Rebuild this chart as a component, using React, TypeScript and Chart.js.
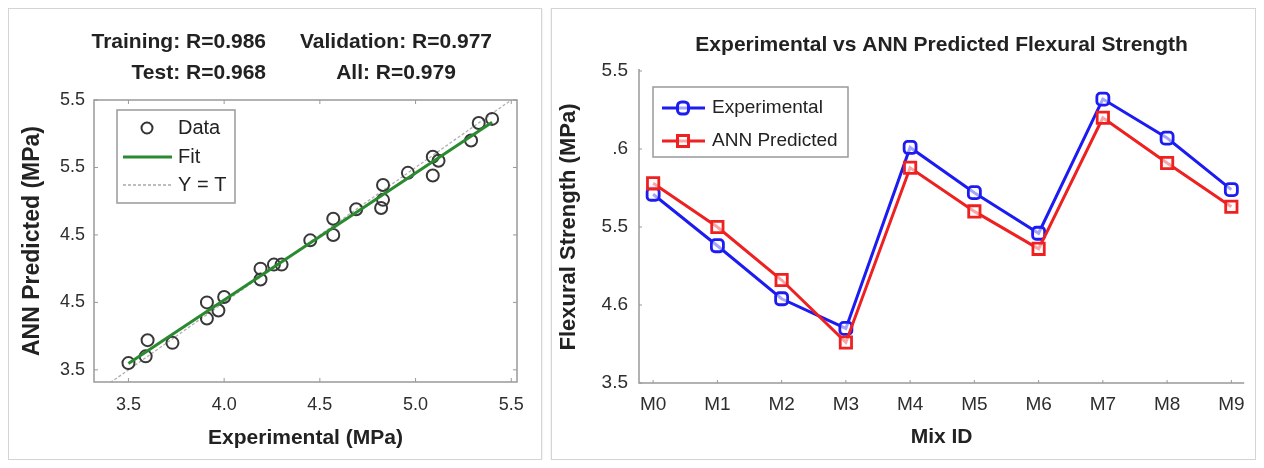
import React, { useEffect, useRef } from "react";
import { Chart, registerables } from "chart.js";

Chart.register(...registerables);

const FONT = "'Liberation Sans', Arial, Helvetica, sans-serif";

// ---------- Left panel: regression plot ----------
const experimentalMPa = [3.5, 3.6, 3.59, 3.73, 3.91, 3.91, 3.97, 4.0, 4.19, 4.19, 4.26, 4.3, 4.45, 4.57, 4.57, 4.69, 4.83, 4.83, 4.82, 4.96, 5.09, 5.12, 5.09, 5.29, 5.33, 5.4];
const predictedMPa = [3.55, 3.72, 3.6, 3.7, 4.0, 3.88, 3.94, 4.04, 4.25, 4.17, 4.28, 4.28, 4.46, 4.62, 4.5, 4.69, 4.87, 4.76, 4.7, 4.96, 5.08, 5.05, 4.94, 5.2, 5.33, 5.36];
const regressionTitleLeft = ["Training: R=0.986", "Test: R=0.968"];
const regressionTitleRight = ["Validation: R=0.977", "All: R=0.979"];
const regressionTickValues = [3.5, 4.0, 4.5, 5.0, 5.5];
const regressionXTickLabels = ["3.5", "4.0", "4.5", "5.0", "5.5"];
const regressionYTickLabels = ["3.5", "4.5", "4.5", "5.5", "5.5"];
const regressionLegendLabels = ["Data", "Fit", "Y = T"];
const regressionXLimits = [3.32, 5.53];
const regressionYLimits = [3.41, 5.5];

// ---------- Right panel: line comparison ----------
const mixIds = ["M0", "M1", "M2", "M3", "M4", "M5", "M6", "M7", "M8", "M9"];
const experimentalStrength = [4.71, 4.38, 4.04, 3.85, 5.01, 4.72, 4.46, 5.32, 5.07, 4.74];
const annPredictedStrength = [4.78, 4.5, 4.16, 3.76, 4.88, 4.6, 4.36, 5.2, 4.91, 4.63];
const strengthTickValues = [3.5, 4.0, 4.5, 5.0, 5.5];
const strengthYTickLabels = ["3.5", "4.6", "5.5", ".6", "5.5"];
const strengthSeriesLabels = ["Experimental", "ANN Predicted"];

function labelFor(values: number[], labels: string[], v: number) {
  const i = values.findIndex((t) => Math.abs(t - v) < 1e-6);
  return i >= 0 ? labels[i] : "";
}

function linearFit(xs: number[], ys: number[]) {
  const n = xs.length;
  const mx = xs.reduce((a, b) => a + b, 0) / n;
  const my = ys.reduce((a, b) => a + b, 0) / n;
  let sxy = 0, sxx = 0;
  for (let i = 0; i < n; i++) {
    sxy += (xs[i] - mx) * (ys[i] - my);
    sxx += (xs[i] - mx) * (xs[i] - mx);
  }
  const b = sxy / sxx;
  return { a: my - b * mx, b };
}

const GREEN = "#2a8a30";
const BLUE = "#1c1cf2";
const RED = "#ee2020";
const AXIS = "#999999";
const TEXT = "#222222";
const TICK_TEXT = "#2e2e2e";

function regressionConfig(): any {
  const fit = linearFit(experimentalMPa, predictedMPa);
  const xMin = Math.min(...experimentalMPa);
  const xMax = Math.max(...experimentalMPa);
  const decor = {
    id: "regDecor",
    afterDraw(chart: any) {
      const { ctx, chartArea: ca, scales } = chart;
      ctx.save();
      ctx.strokeStyle = AXIS;
      ctx.lineWidth = 1.5;
      ctx.strokeRect(ca.left, ca.top, ca.right - ca.left, ca.bottom - ca.top);
      ctx.lineWidth = 1;
      ctx.beginPath();
      regressionTickValues.forEach((v) => {
        const px = scales.x.getPixelForValue(v);
        ctx.moveTo(px, ca.bottom); ctx.lineTo(px, ca.bottom - 4);
        ctx.moveTo(px, ca.top); ctx.lineTo(px, ca.top + 4);
        const py = scales.y.getPixelForValue(v);
        ctx.moveTo(ca.left, py); ctx.lineTo(ca.left + 4, py);
        ctx.moveTo(ca.right, py); ctx.lineTo(ca.right - 4, py);
      });
      ctx.stroke();
      // legend
      const bx = ca.left + 23, by = ca.top + 10, bw = 118, bh = 93;
      ctx.fillStyle = "#fff";
      ctx.fillRect(bx, by, bw, bh);
      ctx.strokeStyle = AXIS;
      ctx.lineWidth = 1.5;
      ctx.strokeRect(bx, by, bw, bh);
      const rows = [by + 18, by + 47, by + 75];
      ctx.strokeStyle = "#333";
      ctx.lineWidth = 2;
      ctx.beginPath();
      ctx.arc(bx + 30, rows[0], 5.5, 0, Math.PI * 2);
      ctx.stroke();
      ctx.strokeStyle = GREEN;
      ctx.lineWidth = 3;
      ctx.beginPath();
      ctx.moveTo(bx + 6, rows[1]); ctx.lineTo(bx + 55, rows[1]);
      ctx.stroke();
      ctx.strokeStyle = "#a8a8a8";
      ctx.lineWidth = 1.3;
      ctx.setLineDash([3, 2]);
      ctx.beginPath();
      ctx.moveTo(bx + 6, rows[2]); ctx.lineTo(bx + 55, rows[2]);
      ctx.stroke();
      ctx.setLineDash([]);
      ctx.fillStyle = TEXT;
      ctx.font = `20px ${FONT}`;
      ctx.textBaseline = "middle";
      ctx.textAlign = "left";
      regressionLegendLabels.forEach((t, i) => ctx.fillText(t, bx + 61, rows[i]));
      // titles
      ctx.font = `bold 21px ${FONT}`;
      const ys = [33, 64];
      ctx.textAlign = "right";
      regressionTitleLeft.forEach((t, i) => ctx.fillText(t, ca.left + 172, ys[i]));
      ctx.textAlign = "center";
      regressionTitleRight.forEach((t, i) => ctx.fillText(t, ca.left + 302, ys[i]));
      ctx.restore();
    },
  };
  return {
    type: "scatter",
    data: {
      datasets: [
        {
          label: "Fit",
          type: "line",
          data: [
            { x: xMin, y: fit.a + fit.b * xMin },
            { x: xMax, y: fit.a + fit.b * xMax },
          ],
          borderColor: GREEN,
          borderWidth: 3,
          pointRadius: 0,
          fill: false,
          order: 0,
        },
        {
          label: "Data",
          data: experimentalMPa.map((x, i) => ({ x, y: predictedMPa[i] })),
          pointStyle: "circle",
          pointRadius: 6,
          borderColor: "#383838",
          borderWidth: 2,
          backgroundColor: "rgba(0,0,0,0)",
          order: 1,
        },
        {
          label: "Y = T",
          type: "line",
          data: [
            { x: regressionXLimits[0], y: regressionXLimits[0] },
            { x: regressionXLimits[1], y: regressionXLimits[1] },
          ],
          borderColor: "#b0b0b0",
          borderWidth: 1.3,
          borderDash: [3, 2],
          pointRadius: 0,
          fill: false,
          clip: 0,
          order: 2,
        },
      ],
    },
    options: {
      animation: false,
      responsive: false,
      layout: { padding: { top: 91, right: 24, bottom: 0, left: 0 } },
      plugins: { legend: { display: false }, tooltip: { enabled: false }, title: { display: false } },
      scales: {
        x: {
          type: "linear",
          min: regressionXLimits[0],
          max: regressionXLimits[1],
          afterFit: (s: any) => { s.height = 77; },
          afterBuildTicks: (s: any) => { s.ticks = regressionTickValues.map((v) => ({ value: v })); },
          ticks: {
            callback: (v: any) => labelFor(regressionTickValues, regressionXTickLabels, Number(v)),
            font: { family: FONT, size: 18 },
            color: TICK_TEXT,
            padding: 12,
            maxRotation: 0,
            autoSkip: false,
          },
          grid: { display: false, drawTicks: false },
          border: { display: false },
          title: {
            display: true,
            text: "Experimental (MPa)",
            font: { family: FONT, size: 21, weight: "bold" },
            color: TEXT,
            padding: { top: 0, bottom: 8 },
          },
        },
        y: {
          type: "linear",
          min: regressionYLimits[0],
          max: regressionYLimits[1],
          afterFit: (s: any) => { s.width = 85; },
          afterBuildTicks: (s: any) => { s.ticks = regressionTickValues.map((v) => ({ value: v })); },
          ticks: {
            callback: (v: any) => labelFor(regressionTickValues, regressionYTickLabels, Number(v)),
            font: { family: FONT, size: 18 },
            color: TICK_TEXT,
            padding: 9,
            autoSkip: false,
          },
          grid: { display: false, drawTicks: false },
          border: { display: false },
          title: {
            display: true,
            text: "ANN Predicted (MPa)",
            font: { family: FONT, size: 23, weight: "bold" },
            color: TEXT,
            padding: { top: 10, bottom: 0 },
          },
        },
      },
    },
    plugins: [decor],
  };
}

function strengthConfig(): any {
  const decor = {
    id: "strDecor",
    afterDraw(chart: any) {
      const { ctx, chartArea: ca, scales } = chart;
      ctx.save();
      ctx.strokeStyle = AXIS;
      ctx.lineWidth = 1.5;
      ctx.beginPath();
      ctx.moveTo(ca.left, ca.top - 2);
      ctx.lineTo(ca.left, ca.bottom);
      ctx.lineTo(ca.right, ca.bottom);
      ctx.stroke();
      ctx.lineWidth = 1;
      ctx.beginPath();
      mixIds.forEach((_, i) => {
        const px = scales.x.getPixelForValue(i);
        ctx.moveTo(px, ca.bottom); ctx.lineTo(px, ca.bottom - 3);
      });
      strengthTickValues.forEach((v) => {
        const py = scales.y.getPixelForValue(v);
        ctx.moveTo(ca.left, py); ctx.lineTo(ca.left + 3, py);
      });
      ctx.stroke();
      // legend
      const bx = ca.left + 14, by = ca.top + 16, bw = 195, bh = 70;
      ctx.fillStyle = "#fff";
      ctx.fillRect(bx, by, bw, bh);
      ctx.strokeStyle = AXIS;
      ctx.lineWidth = 1.5;
      ctx.strokeRect(bx, by, bw, bh);
      const rows = [by + 21, by + 54];
      const colors = [BLUE, RED];
      colors.forEach((c, i) => {
        ctx.strokeStyle = c;
        ctx.lineWidth = 3;
        ctx.beginPath();
        ctx.moveTo(bx + 9, rows[i]); ctx.lineTo(bx + 52, rows[i]);
        ctx.stroke();
        ctx.fillStyle = "rgba(255,255,255,0.6)";
        ctx.beginPath();
        if (i === 0) {
          (ctx as any).roundRect(bx + 24.5, rows[i] - 6, 11, 12, 4);
        } else {
          ctx.rect(bx + 24.5, rows[i] - 5.5, 11, 11);
        }
        ctx.fill();
        ctx.stroke();
      });
      ctx.fillStyle = TEXT;
      ctx.font = `19px ${FONT}`;
      ctx.textBaseline = "middle";
      ctx.textAlign = "left";
      strengthSeriesLabels.forEach((t, i) => ctx.fillText(t, bx + 59, rows[i]));
      ctx.font = `bold 21px ${FONT}`;
      ctx.textAlign = "center";
      ctx.fillText("Experimental vs ANN Predicted Flexural Strength", (ca.left + ca.right) / 2, 36);
      ctx.restore();
    },
  };
  return {
    type: "line",
    data: {
      datasets: [
        {
          label: strengthSeriesLabels[0],
          data: mixIds.map((_, i) => ({ x: i, y: experimentalStrength[i] })),
          borderColor: BLUE,
          borderWidth: 3,
          pointStyle: "rectRounded",
          pointRadius: 7,
          pointBorderWidth: 2.8,
          pointBorderColor: BLUE,
          pointBackgroundColor: "rgba(255,255,255,0.6)",
          fill: false,
          tension: 0,
          order: 1,
        },
        {
          label: strengthSeriesLabels[1],
          data: mixIds.map((_, i) => ({ x: i, y: annPredictedStrength[i] })),
          borderColor: RED,
          borderWidth: 3,
          pointStyle: "rect",
          pointRadius: 8,
          pointBorderWidth: 2.8,
          pointBorderColor: RED,
          pointBackgroundColor: "rgba(255,255,255,0.6)",
          fill: false,
          tension: 0,
          order: 0,
        },
      ],
    },
    options: {
      animation: false,
      responsive: false,
      layout: { padding: { top: 62, right: 10, bottom: 0, left: 0 } },
      plugins: { legend: { display: false }, tooltip: { enabled: false }, title: { display: false } },
      scales: {
        x: {
          type: "linear",
          min: -0.22,
          max: 9.2,
          afterFit: (s: any) => { s.height = 76; },
          afterBuildTicks: (s: any) => { s.ticks = mixIds.map((_, i) => ({ value: i })); },
          ticks: {
            callback: (v: any) => mixIds[Number(v)] ?? "",
            font: { family: FONT, size: 19 },
            color: TICK_TEXT,
            padding: 10,
            maxRotation: 0,
            autoSkip: false,
          },
          grid: { display: false, drawTicks: false },
          border: { display: false },
          title: {
            display: true,
            text: "Mix ID",
            font: { family: FONT, size: 21, weight: "bold" },
            color: TEXT,
            padding: { top: 0, bottom: 9 },
          },
        },
        y: {
          type: "linear",
          min: 3.5,
          max: 5.5,
          afterFit: (s: any) => { s.width = 87; },
          afterBuildTicks: (s: any) => { s.ticks = strengthTickValues.map((v) => ({ value: v })); },
          ticks: {
            callback: (v: any) => labelFor(strengthTickValues, strengthYTickLabels, Number(v)),
            font: { family: FONT, size: 19 },
            color: TICK_TEXT,
            padding: 11,
            autoSkip: false,
          },
          grid: { display: false, drawTicks: false },
          border: { display: false },
          title: {
            display: true,
            text: "Flexural Strength (MPa)",
            font: { family: FONT, size: 22, weight: "bold" },
            color: TEXT,
            padding: { top: 4, bottom: 0 },
          },
        },
      },
    },
    plugins: [decor],
  };
}

function ChartPanel({ makeConfig, width, height }: { makeConfig: () => any; width: number; height: number }) {
  const ref = useRef<HTMLCanvasElement>(null);
  useEffect(() => {
    if (!ref.current) return;
    const chart = new Chart(ref.current, makeConfig());
    return () => chart.destroy();
  }, []);
  return (
    <div
      style={{
        width,
        height,
        border: "1px solid #d4d4d4",
        boxShadow: "0 0 2px rgba(0,0,0,0.12)",
        background: "#fff",
      }}
    >
      <canvas ref={ref} width={width} height={height} style={{ display: "block", width, height }} />
    </div>
  );
}

export default function App() {
  return (
    <div style={{ display: "flex", gap: 9, width: 1248, height: 452 }}>
      <ChartPanel makeConfig={regressionConfig} width={532} height={450} />
      <ChartPanel makeConfig={strengthConfig} width={703} height={450} />
    </div>
  );
}
